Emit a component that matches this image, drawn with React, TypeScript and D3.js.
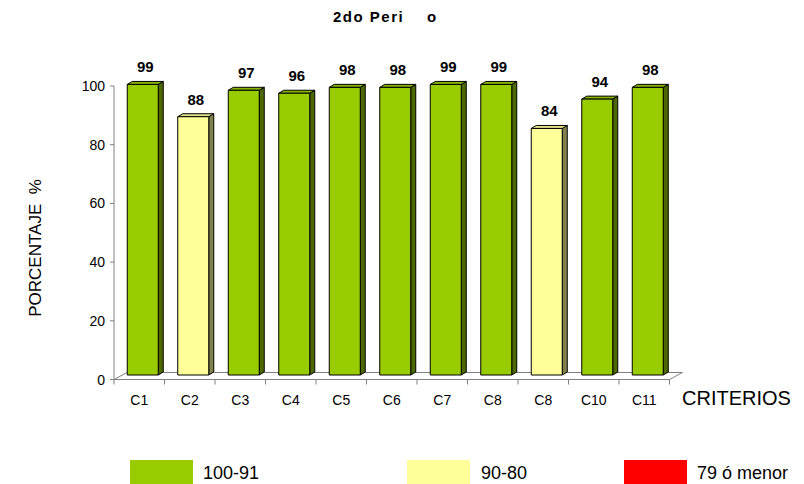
import React from "react";
import * as d3 from "d3";

// Criteria scores for the second period
const categories = ["C1", "C2", "C3", "C4", "C5", "C6", "C7", "C8", "C8", "C10", "C11"];
const values = [99, 88, 97, 96, 98, 98, 99, 99, 84, 94, 98];
const yTicks = [0, 20, 40, 60, 80, 100];
const legendLabels = ["100-91", "90-80", "79 ó menor"];
const legendColors = ["#99CC00", "#FFFF99", "#FF0000"];

const W = 804;
const H = 484;
const FONT = "'Liberation Sans', Arial, Helvetica, sans-serif";

// 3D geometry
const FLOOR_DX = 13;
const FLOOR_DY = -7;
const FRONT_DX = 3.5;
const FRONT_DY = -4.5;
const BAR_W = 31;
const DEPTH_DX = 5;
const DEPTH_DY = -3;

function colorFor(v: number): string {
  if (v >= 91) return legendColors[0];
  if (v >= 80) return legendColors[1];
  return legendColors[2];
}

export default function App() {
  const x = d3
    .scaleBand<number>()
    .domain(categories.map((_, i) => i))
    .range([114, 669.5])
    .paddingInner(0)
    .paddingOuter(0);
  const y = d3.scaleLinear().domain([0, 100]).range([379.5, 86]);

  const x0 = 114;
  const x1 = 669.5;
  const y0 = y(0);
  const axisColor = "#808080";

  return (
    <svg
      width={W}
      height={H}
      style={{ position: "absolute", left: 0, top: 0, background: "#fff" }}
      fontFamily={FONT}
    >
      {/* title */}
      <text x={333} y={22} fontSize={15} fontWeight="bold" letterSpacing={1.5} fill="#000">
        2do Peri
        <tspan x={427}>o</tspan>
      </text>

      {/* floor */}
      <path
        d={`M${x0},${y0} L${x0 + FLOOR_DX},${y0 + FLOOR_DY} L${x1 + FLOOR_DX},${y0 + FLOOR_DY} L${x1},${y0}`}
        fill="none"
        stroke={axisColor}
        strokeWidth={1}
      />

      {/* bars */}
      {values.map((v, i) => {
        const cx = (x(i) as number) + x.bandwidth() / 2 + FRONT_DX;
        const l = cx - BAR_W / 2;
        const r = cx + BAR_W / 2;
        const top = y(v) + FRONT_DY;
        const bot = y0 + FRONT_DY;
        const base = d3.color(colorFor(v))!;
        const topCol = base.darker(0.35).formatHex();
        const sideCol = base.darker(1.9).formatHex();
        return (
          <g key={i} stroke="#000" strokeWidth={1} strokeLinejoin="round">
            <path
              d={`M${r},${top} L${r + DEPTH_DX},${top + DEPTH_DY} L${r + DEPTH_DX},${bot + DEPTH_DY} L${r},${bot} Z`}
              fill={sideCol}
            />
            <path
              d={`M${l},${top} L${l + DEPTH_DX},${top + DEPTH_DY} L${r + DEPTH_DX},${top + DEPTH_DY} L${r},${top} Z`}
              fill={topCol}
            />
            <rect x={l} y={top} width={BAR_W} height={bot - top} fill={base.formatHex()} />
          </g>
        );
      })}

      {/* value labels */}
      {values.map((v, i) => {
        const cx = (x(i) as number) + x.bandwidth() / 2 + FRONT_DX + DEPTH_DX / 2;
        return (
          <text
            key={i}
            x={cx}
            y={y(v) + FRONT_DY - 12}
            fontSize={15}
            fontWeight="bold"
            textAnchor="middle"
            fill="#000"
          >
            {v}
          </text>
        );
      })}

      {/* y axis */}
      <line x1={x0} x2={x0} y1={y(100)} y2={y0 + 5} stroke={axisColor} />
      {yTicks.map((t) => (
        <g key={t}>
          <line x1={x0 - 4} x2={x0} y1={y(t)} y2={y(t)} stroke={axisColor} />
          <text x={105} y={y(t) + 5} fontSize={14} textAnchor="end" fill="#000">
            {t}
          </text>
        </g>
      ))}

      {/* x axis */}
      <line x1={x0} x2={x1} y1={y0} y2={y0} stroke={axisColor} />
      {categories.map((c, i) => {
        const bx = (x(i) as number) + x.bandwidth();
        return <line key={"t" + i} x1={bx} x2={bx} y1={y0} y2={y0 + 5} stroke={axisColor} />;
      })}
      {categories.map((c, i) => (
        <text
          key={"c" + i}
          x={(x(i) as number) + x.bandwidth() / 2}
          y={405}
          fontSize={14}
          textAnchor="middle"
          fill="#000"
        >
          {c}
        </text>
      ))}

      {/* axis titles */}
      <text x={682} y={405} fontSize={20} fill="#000">
        CRITERIOS
      </text>
      <text
        transform={`translate(41,248) rotate(-90)`}
        fontSize={17}
        textAnchor="middle"
        fill="#000"
        style={{ whiteSpace: "pre" }}
      >
        {"PORCENTAJE  %"}
      </text>

      {/* legend */}
      {legendLabels.map((lab, i) => {
        const bx = [130, 407, 624][i];
        const tx = [203, 481, 697][i];
        return (
          <g key={lab}>
            <rect x={bx} y={460} width={63} height={24} fill={legendColors[i]} />
            <text x={tx} y={479} fontSize={18} fill="#000">
              {lab}
            </text>
          </g>
        );
      })}
    </svg>
  );
}
